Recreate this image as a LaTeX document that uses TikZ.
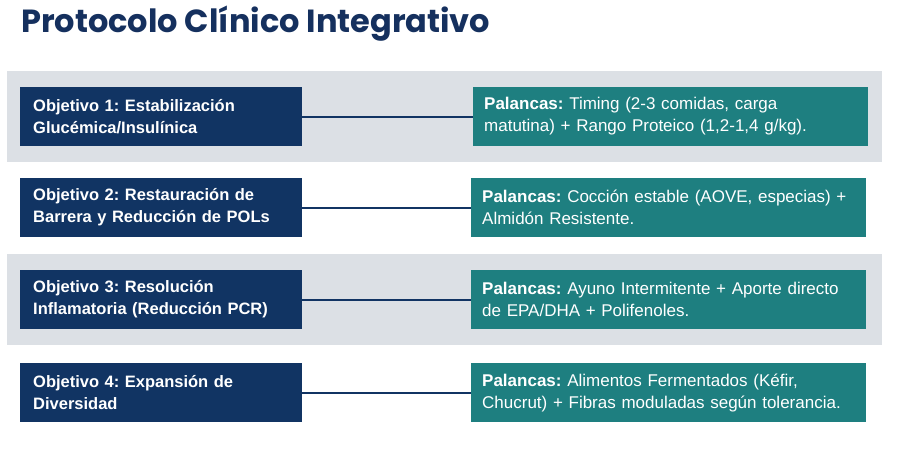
\documentclass[tikz,border=0pt]{standalone}
\usepackage{fontspec}
\setmainfont{Liberation Sans}
\newfontfamily\titlefont{Poppins}
\usetikzlibrary{positioning}
\definecolor{navy800}{HTML}{113463}
\definecolor{navy900}{HTML}{15305E}
\definecolor{teal700}{HTML}{1E7F80}
\definecolor{gray200}{HTML}{DCE0E5}
\frenchspacing

\begin{document}
\begin{tikzpicture}[x=1pt,y=1pt]
  % Styles
  \tikzset{
    band/.style={fill=gray200, draw=none, minimum width=875pt, minimum height=91pt, inner sep=0pt},
    goal/.style={fill=navy800, draw=none, text=white, font=\fontsize{16.5}{22}\selectfont\bfseries, align=left,
      text width=256pt, minimum width=282pt, minimum height=59pt, inner xsep=13pt, anchor=west},
    lever/.style={fill=teal700, draw=none, text=white, font=\fontsize{17}{22}\selectfont, align=left,
      text width=373pt, minimum width=395pt, minimum height=59pt, inner xsep=11pt, anchor=west},
    link/.style={draw=navy800, line width=2pt},
  }
  \useasboundingbox (0,0) rectangle (900,-458);

  % Title
  \node[anchor=west, text=navy900, font=\titlefont\fontsize{32}{36}\selectfont\bfseries, inner sep=0pt] (title) at (21,-24) {Protocolo Clínico Integrativo};

  % Background bands
  \node[band, anchor=west] (band1) at (7,-116.5) {};
  \node[band, anchor=west] (band3) at (7,-299.5) {};

  % Objectives
  \node[goal] (obj1) at (20,-116.5) {Objetivo 1: Estabilización\\Glucémica/Insulínica};
  \node[goal] (obj2) at (20,-207.5) {Objetivo 2: Restauración de\\Barrera y Reducción de POLs};
  \node[goal] (obj3) at (20,-299.5) {Objetivo 3: Resolución\\Inflamatoria (Reducción PCR)};
  \node[goal] (obj4) at (20,-392.5) {Objetivo 4: Expansión de\\Diversidad};

  % Levers
  \node[lever] (pal1) at (473,-116.5) {\textbf{Palancas:} Timing (2-3 comidas, carga\\matutina) + Rango Proteico (1,2-1,4 g/kg).};
  \node[lever] (pal2) at (471,-207.5) {\textbf{Palancas:} Cocción estable (AOVE, especias) +\\Almidón Resistente.};
  \node[lever] (pal3) at (471,-299.5) {\textbf{Palancas:} Ayuno Intermitente + Aporte directo\\de EPA/DHA + Polifenoles.};
  \node[lever] (pal4) at (471,-392.5) {\textbf{Palancas:} Alimentos Fermentados (Kéfir,\\Chucrut) + Fibras moduladas según tolerancia.};

  % Links
  \draw[link] (obj1.east) -- (pal1.west);
  \draw[link] (obj2.east) -- (pal2.west);
  \draw[link] (obj3.east) -- (pal3.west);
  \draw[link] (obj4.east) -- (pal4.west);
\end{tikzpicture}
\end{document}
